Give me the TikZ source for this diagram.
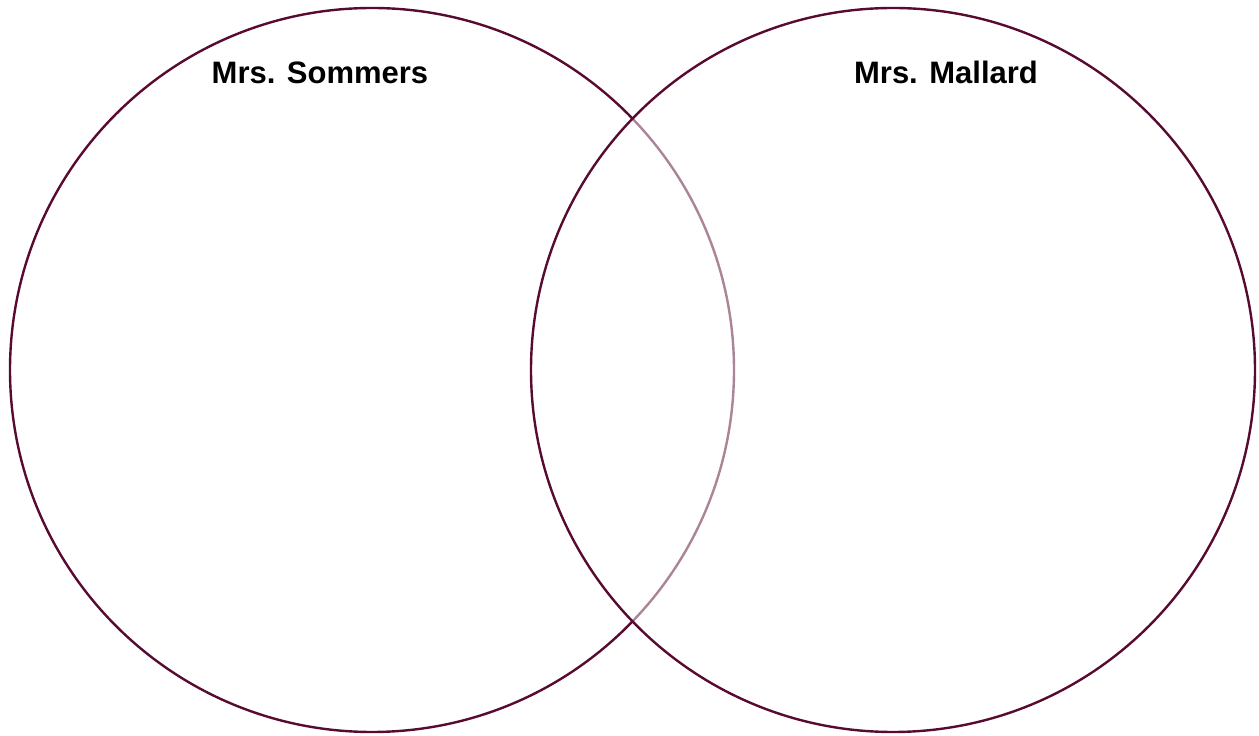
\documentclass[tikz,border=0pt]{standalone}
\usepackage{fontspec}
\setmainfont{Liberation Sans}
\definecolor{maroon}{RGB}{88,10,48}
\begin{document}
\begin{tikzpicture}[x=1pt,y=1pt,
  ring/.style={draw=maroon,line width=2.4pt},
  lbl/.style={font=\fontsize{31}{36}\selectfont\bfseries,anchor=base,inner sep=0pt}]
\useasboundingbox (0,0) rectangle (1259,736);
\node[ring,circle,minimum size=724pt,inner sep=0pt] (L) at (372,366) {};
\node[ring,circle,minimum size=724pt,inner sep=0pt,fill=white,fill opacity=0.5] (R) at (893,366) {};
\node[lbl] (ls) at (320,652) {Mrs. Sommers};
\node[lbl] (lm) at (946,652) {Mrs. Mallard};
\end{tikzpicture}
\end{document}
